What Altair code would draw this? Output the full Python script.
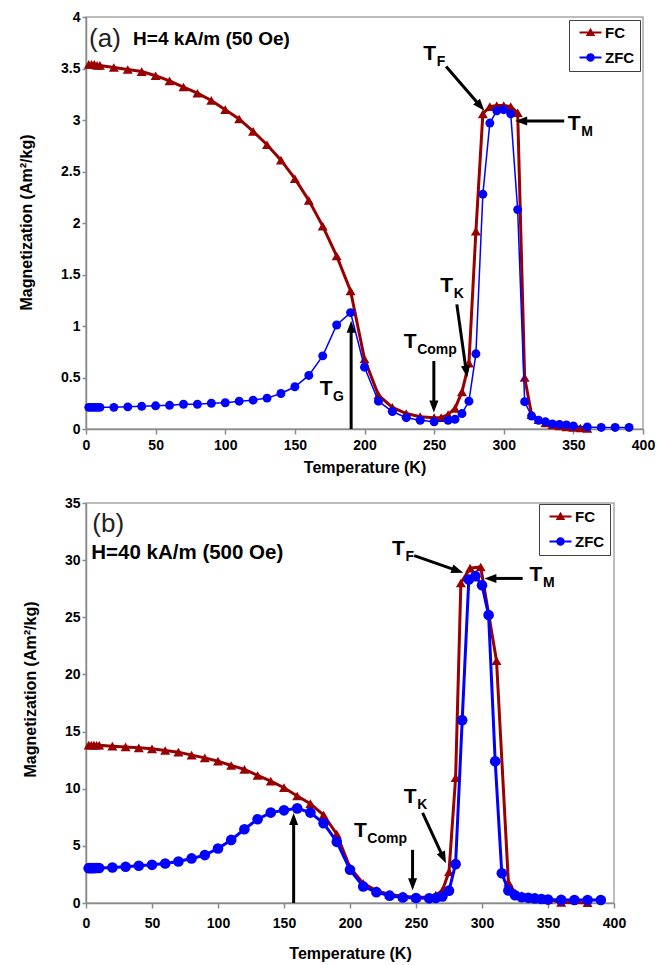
import math
import altair as alt
import pandas as pd

FONT = "Liberation Sans"
RED = "#990000"
BLUE = "#0000FF"
GREY = "#8a8a8a"

SERIES = ["FC", "ZFC"]
X_TICKS = [0, 50, 100, 150, 200, 250, 300, 350, 400]

# ---------------- panel (a): H = 4 kA/m ----------------
fc_a_T = [2, 4, 6, 8, 10, 20, 30, 40, 50, 60, 70, 80, 90, 100, 110, 120, 130, 140, 150, 160,
          170, 180, 190, 200, 210, 220, 230, 240, 250, 255, 260, 265, 270, 275, 280, 285, 290,
          295, 300, 305, 310, 315, 320, 325, 330, 335, 340, 345, 350, 355, 360]
fc_a_M = [3.54, 3.54, 3.54, 3.53, 3.53, 3.51, 3.49, 3.47, 3.43, 3.38, 3.32, 3.26, 3.19, 3.10,
          3.01, 2.89, 2.76, 2.61, 2.43, 2.22, 1.97, 1.68, 1.34, 0.68, 0.33, 0.21, 0.15, 0.12,
          0.11, 0.11, 0.14, 0.20, 0.36, 0.64, 1.92, 3.06, 3.13, 3.14, 3.14, 3.13, 3.07, 0.50,
          0.14, 0.09, 0.06, 0.04, 0.03, 0.02, 0.015, 0.01, 0.005]
zfc_a_T = [2, 4, 6, 8, 10, 20, 30, 40, 50, 60, 70, 80, 90, 100, 110, 120, 130, 140, 150, 160,
           170, 180, 190, 200, 210, 220, 230, 240, 250, 260, 265, 270, 275, 280, 285, 290, 295,
           300, 305, 310, 315, 320, 325, 330, 335, 340, 345, 350, 360, 370, 380, 390]
zfc_a_M = [0.21, 0.21, 0.21, 0.21, 0.21, 0.21, 0.215, 0.22, 0.225, 0.23, 0.24, 0.24, 0.25,
           0.255, 0.27, 0.28, 0.30, 0.345, 0.41, 0.52, 0.71, 1.01, 1.13, 0.60, 0.27, 0.17, 0.11,
           0.085, 0.07, 0.085, 0.095, 0.15, 0.27, 0.73, 2.28, 2.97, 3.09, 3.10, 3.06, 2.13,
           0.265, 0.126, 0.085, 0.07, 0.05, 0.045, 0.04, 0.03, 0.02, 0.015, 0.015, 0.015]

ann_a_sub = ["F", "M", "K", "Comp", "G"]
ann_a_T = [246.8, 350.6, 259.0, 232.8, 172.4]
ann_a_M = [3.64, 2.96, 1.39, 0.84, 0.39]
arr_a_T0 = [258.6, 343.4, 266.3, 249.8, 190.4]
arr_a_M0 = [3.52, 2.99, 1.21, 0.66, 0.0]
arr_a_T1 = [286.1, 308.2, 273.7, 249.8, 190.4]
arr_a_M1 = [3.09, 2.99, 0.50, 0.16, 1.05]

# ---------------- panel (b): H = 40 kA/m ----------------
fc_b_T = [2, 4, 6, 8, 10, 20, 30, 40, 50, 60, 70, 80, 90, 100, 110, 120, 130, 140, 150, 160,
          170, 180, 190, 200, 210, 220, 230, 240, 250, 260, 265, 270, 275, 280, 284, 291, 299,
          311, 320, 325, 330, 335, 340, 345, 350, 360, 380]
fc_b_M = [13.82, 13.82, 13.81, 13.80, 13.80, 13.72, 13.66, 13.58, 13.49, 13.34, 13.20, 12.94,
          12.70, 12.41, 12.03, 11.69, 11.16, 10.67, 10.09, 9.36, 8.69, 7.70, 6.02, 3.11, 1.72,
          1.08, 0.75, 0.60, 0.50, 0.52, 0.70, 1.10, 2.73, 10.96, 28.0, 29.3, 29.4, 21.2, 1.8,
          0.9, 0.65, 0.5, 0.42, 0.35, 0.3, 0.05, 0.03]
zfc_b_T = [2, 4, 6, 8, 10, 20, 30, 40, 50, 60, 70, 80, 90, 100, 110, 120, 130, 140, 150, 160,
           170, 180, 190, 200, 210, 220, 230, 240, 250, 260, 265, 270, 275, 280, 285, 290, 295,
           300, 305, 310, 315, 320, 325, 330, 335, 340, 345, 350, 360, 370, 380, 390]
zfc_b_M = [3.05, 3.05, 3.05, 3.06, 3.06, 3.11, 3.17, 3.26, 3.34, 3.46, 3.63, 3.90, 4.19, 4.77,
           5.52, 6.45, 7.33, 7.91, 8.11, 8.28, 7.91, 6.98, 5.35, 2.91, 1.45, 0.95, 0.64, 0.49,
           0.44, 0.41, 0.44, 0.58, 1.08, 3.4, 16.0, 28.3, 28.6, 27.8, 25.2, 12.4, 2.6, 1.1, 0.68,
           0.5, 0.45, 0.4, 0.35, 0.3, 0.27, 0.26, 0.26, 0.26]

ann_b_sub = ["F", "M", "K", "Comp"]
ann_b_T = [236.7, 340.9, 245.6, 207.8]
ann_b_M = [31.0, 28.7, 9.26, 6.26]
arr_b_T0 = [248.7, 330.8, 255.0, 247.4, 157.3]
arr_b_M0 = [30.4, 28.4, 7.88, 4.65, 0.0]
arr_b_T1 = [285.8, 301.8, 272.7, 247.4, 157.3]
arr_b_M1 = [28.9, 28.4, 3.47, 1.12, 7.87]

HEAD = "M0,0L0.75,2L-0.75,2Z"
LEG_FC = "M-2.2,-0.2H2.2V0.2H-2.2ZM0,-0.95L0.95,0.7L-0.95,0.7Z"
LEG_ZFC = "M-2.2,-0.2H2.2V0.2H-2.2ZM0.85,0A0.85,0.85 0 1,1 -0.85,0A0.85,0.85 0 1,1 0.85,0Z"


def arrow_frame(T0, M0, T1, M1, w, h, ymax):
    rows = []
    for a, b, c, d in zip(T0, M0, T1, M1):
        x0, y0 = a / 400 * w, h - b / ymax * h
        x1, y1 = c / 400 * w, h - d / ymax * h
        dx, dy = x1 - x0, y1 - y0
        L = math.hypot(dx, dy)
        ux, uy = dx / L, dy / L
        ex, ey = x1 - ux * 8, y1 - uy * 8
        ang = math.degrees(math.atan2(ux, -uy)) % 360
        rows.append({"T0": a, "M0": b, "Te": ex / w * 400, "Me": (h - ey) / h * ymax,
                     "Tt": c, "Mt": d, "ang": ang})
    return pd.DataFrame(rows)


def panel(p):
    w, h, ymax = p["w"], p["h"], p["ymax"]
    xs = alt.Scale(domain=[0, 400], nice=False, zero=False)
    ys = alt.Scale(domain=[0, ymax], nice=False, zero=False)
    xa = alt.Axis(values=X_TICKS, title="Temperature (K)", grid=False,
                  labelFont=FONT, labelFontSize=14, labelFontWeight="bold", labelColor="black",
                  titleFont=FONT, titleFontSize=16, titleFontWeight="bold", titleColor="black",
                  domainColor=GREY, domainWidth=1.5, tickColor=GREY, tickWidth=1.5, tickSize=5,
                  labelPadding=p["xlp"], titlePadding=p["xtp"], labelFlush=False)
    ya = alt.Axis(values=p["yticks"], format="~g", title="Magnetization (Am²/kg)", grid=False,
                  labelFont=FONT, labelFontSize=14, labelFontWeight="bold", labelColor="black",
                  titleFont=FONT, titleFontSize=16, titleFontWeight="bold", titleColor="black",
                  domainColor=GREY, domainWidth=1.5, tickColor=GREY, tickWidth=1.5, tickSize=4,
                  labelPadding=2, titlePadding=p["ytp"], titleY=p["yty"], labelFlush=False)

    def X(f):
        return alt.X(f"{f}:Q", scale=xs, axis=xa)

    def Y(f):
        return alt.Y(f"{f}:Q", scale=ys, axis=ya)

    fc = pd.DataFrame({"T": p["fcT"], "M": p["fcM"]})
    zfc = pd.DataFrame({"T": p["zT"], "M": p["zM"]})

    l_fc = alt.Chart(fc).mark_line(color=RED, strokeWidth=p["fcw"]).encode(X("T"), Y("M"))
    s_fc = alt.Chart(fc).mark_point(shape="triangle-up", filled=True, color=RED, opacity=1,
                                    size=p["tri"]).encode(X("T"), Y("M"))
    l_z = alt.Chart(zfc).mark_line(color=BLUE, strokeWidth=p["zw"]).encode(X("T"), Y("M"))
    s_z = alt.Chart(zfc).mark_point(shape="circle", filled=True, color=BLUE, opacity=1,
                                    size=p["circ"]).encode(X("T"), Y("M"))

    arr = arrow_frame(p["a0T"], p["a0M"], p["a1T"], p["a1M"], w, h, ymax)
    rule = alt.Chart(arr).mark_rule(color="black", strokeWidth=3).encode(
        X("T0"), Y("M0"), x2="Te:Q", y2="Me:Q")
    head = alt.Chart(arr).mark_point(shape=HEAD, filled=True, color="black", opacity=1,
                                     size=144).encode(
        X("Tt"), Y("Mt"), angle=alt.Angle("ang:Q", scale=None))

    ann = pd.DataFrame({"T": p["annT"], "M": p["annM"], "sub": p["sub"], "main": "T"})
    t_main = alt.Chart(ann).mark_text(font=FONT, fontSize=21, fontWeight="bold", color="black",
                                      align="center", baseline="middle").encode(
        X("T"), Y("M"), text="main:N")
    t_sub = alt.Chart(ann).mark_text(font=FONT, fontSize=14, fontWeight="bold", color="black",
                                     align="left", baseline="middle", dx=7, dy=8).encode(
        X("T"), Y("M"), text="sub:N")

    tag = pd.DataFrame({"T": [p["tagT"]], "M": [p["tagM"]], "s": [p["tag"]]})
    t_tag = alt.Chart(tag).mark_text(font=FONT, fontSize=26, color="#222", align="left",
                                     baseline="middle").encode(X("T"), Y("M"), text="s:N")
    fld = pd.DataFrame({"T": [p["fT"]], "M": [p["fM"]], "s": [p["field"]]})
    t_fld = alt.Chart(fld).mark_text(font=FONT, fontSize=p["fsize"], fontWeight="bold",
                                     color="black", align="left", baseline="middle").encode(
        X("T"), Y("M"), text="s:N")

    leg = alt.Legend(title=None, orient="none", legendX=p["lx"], legendY=p["ly"],
                     direction="vertical", strokeColor="#404040", fillColor="white", padding=5,
                     labelFont=FONT, labelFontSize=15, labelFontWeight="bold", labelColor="black",
                     symbolSize=100, symbolOffset=9, labelOffset=7, rowPadding=9,
                     symbolStrokeWidth=0)
    legdf = pd.DataFrame({"series": SERIES, "T": [0, 0], "M": [0, 0]})
    l_leg = alt.Chart(legdf).mark_point(filled=True, opacity=1).encode(
        X("T"), Y("M"),
        color=alt.Color("series:N", scale=alt.Scale(domain=SERIES, range=[RED, BLUE]), legend=leg),
        shape=alt.Shape("series:N", scale=alt.Scale(domain=SERIES, range=[LEG_FC, LEG_ZFC]),
                        legend=leg),
    ).transform_filter("false")

    return alt.layer(l_fc, s_fc, l_z, s_z, rule, head, t_main, t_sub, t_tag, t_fld,
                     l_leg).properties(width=w, height=h)


top = panel(dict(w=557, h=412, ymax=4, yticks=[0, 0.5, 1, 1.5, 2, 2.5, 3, 3.5, 4],
                 xlp=4, xtp=7, ytp=26, yty=205, fcT=fc_a_T, fcM=fc_a_M, zT=zfc_a_T, zM=zfc_a_M,
                 fcw=3, zw=1.5, tri=100, circ=80,
                 a0T=arr_a_T0, a0M=arr_a_M0, a1T=arr_a_T1, a1M=arr_a_M1,
                 annT=ann_a_T, annM=ann_a_M, sub=ann_a_sub,
                 tag="(a)", tagT=2.2, tagM=3.79, field="H=4 kA/m (50 Oe)", fT=33.8, fM=3.79,
                 fsize=19, lx=483, ly=3))

bottom = panel(dict(w=528, h=400, ymax=35, yticks=[0, 5, 10, 15, 20, 25, 30, 35],
                    xlp=8, xtp=15, ytp=26, yty=186, fcT=fc_b_T, fcM=fc_b_M, zT=zfc_b_T,
                    zM=zfc_b_M, fcw=3, zw=3, tri=100, circ=113,
                    a0T=arr_b_T0, a0M=arr_b_M0, a1T=arr_b_T1, a1M=arr_b_M1,
                    annT=ann_b_T, annM=ann_b_M, sub=ann_b_sub,
                    tag="(b)", tagT=4.8, tagM=33.2, field="H=40 kA/m (500 Oe)", fT=4.0, fM=30.6,
                    fsize=20.5, lx=453, ly=1))

chart = (
    alt.vconcat(top, bottom, spacing=19)
    .resolve_scale(x="independent", y="independent", color="independent", shape="independent")
    .resolve_legend(color="independent", shape="independent")
    .properties(padding={"left": 9, "top": 1, "right": 5, "bottom": 2})
    .configure_view(stroke="#a8a8a8", strokeWidth=1.5)
)

chart.save("out.html", embed_options={"renderer": "svg", "actions": False})
